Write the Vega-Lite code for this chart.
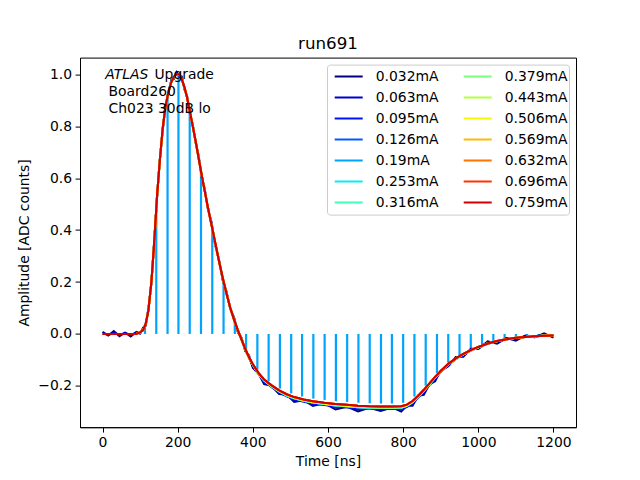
{
"$schema":"https://vega.github.io/schema/vega-lite/v6.json",
"width":496,"height":369.6,
"autosize":"none",
"padding":{"left":80,"top":57.6,"right":64,"bottom":52.8},
"background":"white",
"title":{"text":"run691","fontSize":16.7,"fontWeight":"normal","font":"DejaVu Sans","color":"black","offset":-8,"baseline":"alphabetic","anchor":"middle","frame":"group"},
"config":{
"font":"DejaVu Sans",
"view":{"stroke":"black","strokeWidth":1},
"axis":{"grid":false,"domainColor":"black","domainWidth":1,"tickColor":"black","tickWidth":1,"tickSize":4.9,"labelFontSize":13.9,"labelColor":"black","labelPadding":3.5,"titleFontSize":13.9,"titleColor":"black","titleFontWeight":"normal","labelFont":"DejaVu Sans","titleFont":"DejaVu Sans","labelFlush":false},
"axisX":{"titlePadding":5},
"axisY":{"titlePadding":6}
},
"layer":[
{
"data":{"values":[
{"t":113,"v":0.033},{"t":143,"v":0.483},{"t":173,"v":0.915},{"t":202,"v":1.0},{"t":232,"v":0.86},{"t":262,"v":0.626},{"t":292,"v":0.406},{"t":322,"v":0.203},{"t":352,"v":0.047},{"t":382,"v":-0.061},{"t":412,"v":-0.137},{"t":442,"v":-0.181},{"t":472,"v":-0.21},{"t":502,"v":-0.229},{"t":531,"v":-0.241},{"t":561,"v":-0.249},{"t":591,"v":-0.254},{"t":621,"v":-0.259},{"t":651,"v":-0.262},{"t":681,"v":-0.265},{"t":711,"v":-0.267},{"t":741,"v":-0.268},{"t":770,"v":-0.268},{"t":800,"v":-0.265},{"t":830,"v":-0.241},{"t":860,"v":-0.199},{"t":890,"v":-0.151},{"t":920,"v":-0.11},{"t":950,"v":-0.082},{"t":980,"v":-0.06},{"t":1010,"v":-0.043},{"t":1040,"v":-0.03},{"t":1070,"v":-0.02},{"t":1100,"v":-0.014},{"t":1130,"v":-0.011},{"t":1160,"v":-0.008},{"t":1190,"v":-0.006}
]},
"mark":{"type":"rule","strokeWidth":2.2,"color":"#00a4ff"},
"encoding":{
"x":{"field":"t","type":"quantitative","scale":{"domain":[-60,1260],"nice":false,"zero":false},"title":"Time [ns]","axis":{"values":[0,200,400,600,800,1000,1200],"format":"d"}},
"y":{"field":"v","type":"quantitative","scale":{"domain":[-0.359,1.064],"nice":false,"zero":false},"title":"Amplitude [ADC counts]","axis":{"values":[-0.2,0,0.2,0.4,0.6,0.8,1.0],"format":".1f"}},
"y2":{"datum":0}
}
},
{
"data":{"values":[
{"t":0,"a":0.008,"b":0.004,"c":0,"d":0,"e":0,"f":0,"g":0,"h":0,"i":0,"j":0,"k":0,"l":0,"m":0,"n":0},
{"t":15,"a":-0.006,"b":-0.004,"c":0,"d":0,"e":0,"f":0,"g":0,"h":0,"i":0,"j":0,"k":0,"l":0,"m":0,"n":0},
{"t":30,"a":0.011,"b":0.004,"c":0,"d":0,"e":0,"f":0,"g":0,"h":0,"i":0,"j":0,"k":0,"l":0,"m":0,"n":0},
{"t":45,"a":-0.009,"b":-0.004,"c":0,"d":0,"e":0,"f":0,"g":0,"h":0,"i":0,"j":0,"k":0,"l":0,"m":0,"n":0},
{"t":60,"a":0.005,"b":0.004,"c":0,"d":0,"e":0,"f":0,"g":0,"h":0,"i":0,"j":0,"k":0,"l":0,"m":0,"n":0},
{"t":75,"a":-0.01,"b":-0.004,"c":0,"d":0,"e":0,"f":0,"g":0,"h":0,"i":0,"j":0,"k":0,"l":0,"m":0,"n":0},
{"t":90,"a":0.008,"b":0.005,"c":0.001,"d":0.001,"e":0.001,"f":0.001,"g":0.001,"h":0.001,"i":0.001,"j":0.001,"k":0.001,"l":0.001,"m":0.001,"n":0.001},
{"t":100,"a":0.002,"b":0.002,"c":0.006,"d":0.006,"e":0.006,"f":0.006,"g":0.006,"h":0.006,"i":0.006,"j":0.006,"k":0.006,"l":0.006,"m":0.006,"n":0.006},
{"t":108,"a":0.024,"b":0.019,"c":0.015,"d":0.015,"e":0.015,"f":0.015,"g":0.015,"h":0.015,"i":0.015,"j":0.015,"k":0.015,"l":0.015,"m":0.015,"n":0.015},
{"t":115,"a":0.032,"b":0.036,"c":0.04,"d":0.04,"e":0.04,"f":0.04,"g":0.04,"h":0.04,"i":0.04,"j":0.04,"k":0.04,"l":0.04,"m":0.04,"n":0.04},
{"t":122,"a":0.098,"b":0.094,"c":0.09,"d":0.09,"e":0.09,"f":0.09,"g":0.09,"h":0.09,"i":0.09,"j":0.09,"k":0.09,"l":0.09,"m":0.09,"n":0.09},
{"t":130,"a":0.194,"b":0.196,"c":0.2,"d":0.2,"e":0.2,"f":0.2,"g":0.2,"h":0.2,"i":0.2,"j":0.2,"k":0.2,"l":0.2,"m":0.2,"n":0.2},
{"t":137,"a":0.351,"b":0.344,"c":0.34,"d":0.34,"e":0.34,"f":0.34,"g":0.34,"h":0.34,"i":0.34,"j":0.34,"k":0.34,"l":0.34,"m":0.34,"n":0.34},
{"t":145,"a":0.521,"b":0.526,"c":0.53,"d":0.53,"e":0.53,"f":0.53,"g":0.53,"h":0.53,"i":0.53,"j":0.53,"k":0.53,"l":0.53,"m":0.53,"n":0.53},
{"t":152,"a":0.665,"b":0.664,"c":0.66,"d":0.66,"e":0.66,"f":0.66,"g":0.66,"h":0.66,"i":0.66,"j":0.66,"k":0.66,"l":0.66,"m":0.66,"n":0.66},
{"t":160,"a":0.78,"b":0.786,"c":0.79,"d":0.79,"e":0.79,"f":0.79,"g":0.79,"h":0.79,"i":0.79,"j":0.79,"k":0.79,"l":0.79,"m":0.79,"n":0.79},
{"t":167,"a":0.877,"b":0.874,"c":0.87,"d":0.87,"e":0.87,"f":0.87,"g":0.87,"h":0.87,"i":0.87,"j":0.87,"k":0.87,"l":0.87,"m":0.87,"n":0.87},
{"t":175,"a":0.926,"b":0.926,"c":0.93,"d":0.93,"e":0.93,"f":0.93,"g":0.93,"h":0.93,"i":0.93,"j":0.93,"k":0.93,"l":0.93,"m":0.93,"n":0.93},
{"t":183,"a":0.979,"b":0.974,"c":0.97,"d":0.97,"e":0.97,"f":0.97,"g":0.97,"h":0.97,"i":0.97,"j":0.97,"k":0.97,"l":0.97,"m":0.97,"n":0.97},
{"t":190,"a":0.982,"b":0.986,"c":0.99,"d":0.99,"e":0.99,"f":0.99,"g":0.99,"h":0.99,"i":0.99,"j":0.99,"k":0.99,"l":0.99,"m":0.99,"n":0.99},
{"t":197,"a":1.008,"b":1.004,"c":1.0,"d":1.0,"e":1.0,"f":1.0,"g":1.0,"h":1.0,"i":1.0,"j":1.0,"k":1.0,"l":1.0,"m":1.0,"n":1.0},
{"t":204,"a":0.994,"b":0.996,"c":1.0,"d":1.0,"e":1.0,"f":1.0,"g":1.0,"h":1.0,"i":1.0,"j":1.0,"k":1.0,"l":1.0,"m":1.0,"n":1.0},
{"t":211,"a":0.991,"b":0.984,"c":0.98,"d":0.98,"e":0.98,"f":0.98,"g":0.98,"h":0.98,"i":0.98,"j":0.98,"k":0.98,"l":0.98,"m":0.98,"n":0.98},
{"t":218,"a":0.941,"b":0.946,"c":0.95,"d":0.95,"e":0.95,"f":0.95,"g":0.95,"h":0.95,"i":0.95,"j":0.95,"k":0.95,"l":0.95,"m":0.95,"n":0.95},
{"t":225,"a":0.915,"b":0.914,"c":0.91,"d":0.91,"e":0.91,"f":0.91,"g":0.91,"h":0.91,"i":0.91,"j":0.91,"k":0.91,"l":0.91,"m":0.91,"n":0.91},
{"t":232,"a":0.85,"b":0.856,"c":0.86,"d":0.86,"e":0.86,"f":0.86,"g":0.86,"h":0.86,"i":0.86,"j":0.86,"k":0.86,"l":0.86,"m":0.86,"n":0.86},
{"t":240,"a":0.807,"b":0.804,"c":0.8,"d":0.8,"e":0.8,"f":0.8,"g":0.8,"h":0.8,"i":0.8,"j":0.8,"k":0.8,"l":0.8,"m":0.8,"n":0.8},
{"t":248,"a":0.736,"b":0.736,"c":0.74,"d":0.74,"e":0.74,"f":0.74,"g":0.74,"h":0.74,"i":0.74,"j":0.74,"k":0.74,"l":0.74,"m":0.74,"n":0.74},
{"t":256,"a":0.684,"b":0.679,"c":0.675,"d":0.675,"e":0.675,"f":0.675,"g":0.675,"h":0.675,"i":0.675,"j":0.675,"k":0.675,"l":0.675,"m":0.675,"n":0.675},
{"t":264,"a":0.602,"b":0.606,"c":0.61,"d":0.61,"e":0.61,"f":0.61,"g":0.61,"h":0.61,"i":0.61,"j":0.61,"k":0.61,"l":0.61,"m":0.61,"n":0.61},
{"t":272,"a":0.558,"b":0.554,"c":0.55,"d":0.55,"e":0.55,"f":0.55,"g":0.55,"h":0.55,"i":0.55,"j":0.55,"k":0.55,"l":0.55,"m":0.55,"n":0.55},
{"t":280,"a":0.484,"b":0.486,"c":0.49,"d":0.49,"e":0.49,"f":0.49,"g":0.49,"h":0.49,"i":0.49,"j":0.49,"k":0.49,"l":0.49,"m":0.49,"n":0.49},
{"t":290,"a":0.431,"b":0.424,"c":0.42,"d":0.42,"e":0.42,"f":0.42,"g":0.42,"h":0.42,"i":0.42,"j":0.42,"k":0.42,"l":0.42,"m":0.42,"n":0.42},
{"t":300,"a":0.341,"b":0.346,"c":0.35,"d":0.35,"e":0.35,"f":0.35,"g":0.35,"h":0.35,"i":0.35,"j":0.35,"k":0.35,"l":0.35,"m":0.35,"n":0.35},
{"t":310,"a":0.285,"b":0.284,"c":0.28,"d":0.28,"e":0.28,"f":0.28,"g":0.28,"h":0.28,"i":0.28,"j":0.28,"k":0.28,"l":0.28,"m":0.28,"n":0.28},
{"t":320,"a":0.205,"b":0.211,"c":0.215,"d":0.215,"e":0.215,"f":0.215,"g":0.215,"h":0.215,"i":0.215,"j":0.215,"k":0.215,"l":0.215,"m":0.215,"n":0.215},
{"t":330,"a":0.162,"b":0.159,"c":0.155,"d":0.155,"e":0.155,"f":0.155,"g":0.155,"h":0.155,"i":0.155,"j":0.155,"k":0.155,"l":0.155,"m":0.155,"n":0.155},
{"t":340,"a":0.096,"b":0.096,"c":0.1,"d":0.1,"e":0.1,"f":0.1,"g":0.1,"h":0.1,"i":0.1,"j":0.1,"k":0.1,"l":0.1,"m":0.1,"n":0.1},
{"t":350,"a":0.064,"b":0.059,"c":0.055,"d":0.055,"e":0.055,"f":0.055,"g":0.055,"h":0.055,"i":0.055,"j":0.055,"k":0.055,"l":0.055,"m":0.055,"n":0.055},
{"t":360,"a":0.007,"b":0.011,"c":0.015,"d":0.015,"e":0.015,"f":0.015,"g":0.015,"h":0.015,"i":0.015,"j":0.015,"k":0.015,"l":0.015,"m":0.015,"n":0.015},
{"t":370,"a":-0.015,"b":-0.019,"c":-0.023,"d":-0.022,"e":-0.022,"f":-0.022,"g":-0.022,"h":-0.022,"i":-0.022,"j":-0.022,"k":-0.022,"l":-0.022,"m":-0.022,"n":-0.022},
{"t":380,"a":-0.067,"b":-0.064,"c":-0.06,"d":-0.059,"e":-0.059,"f":-0.059,"g":-0.059,"h":-0.059,"i":-0.059,"j":-0.059,"k":-0.058,"l":-0.058,"m":-0.058,"n":-0.058},
{"t":390,"a":-0.083,"b":-0.089,"c":-0.093,"d":-0.092,"e":-0.092,"f":-0.092,"g":-0.092,"h":-0.091,"i":-0.091,"j":-0.091,"k":-0.09,"l":-0.09,"m":-0.09,"n":-0.09},
{"t":400,"a":-0.131,"b":-0.125,"c":-0.121,"d":-0.119,"e":-0.119,"f":-0.119,"g":-0.119,"h":-0.118,"i":-0.118,"j":-0.118,"k":-0.117,"l":-0.117,"m":-0.117,"n":-0.117},
{"t":415,"a":-0.152,"b":-0.151,"c":-0.155,"d":-0.153,"e":-0.153,"f":-0.153,"g":-0.153,"h":-0.152,"i":-0.152,"j":-0.152,"k":-0.15,"l":-0.15,"m":-0.15,"n":-0.15},
{"t":430,"a":-0.193,"b":-0.185,"c":-0.181,"d":-0.179,"e":-0.179,"f":-0.179,"g":-0.179,"h":-0.177,"i":-0.177,"j":-0.177,"k":-0.175,"l":-0.175,"m":-0.175,"n":-0.175},
{"t":450,"a":-0.2,"b":-0.201,"c":-0.205,"d":-0.202,"e":-0.202,"f":-0.202,"g":-0.202,"h":-0.2,"i":-0.2,"j":-0.2,"k":-0.198,"l":-0.198,"m":-0.198,"n":-0.198},
{"t":470,"a":-0.231,"b":-0.229,"c":-0.225,"d":-0.221,"e":-0.221,"f":-0.221,"g":-0.221,"h":-0.219,"i":-0.219,"j":-0.219,"k":-0.217,"l":-0.217,"m":-0.217,"n":-0.217},
{"t":490,"a":-0.233,"b":-0.236,"c":-0.24,"d":-0.237,"e":-0.237,"f":-0.237,"g":-0.237,"h":-0.234,"i":-0.234,"j":-0.234,"k":-0.232,"l":-0.232,"m":-0.232,"n":-0.232},
{"t":510,"a":-0.262,"b":-0.256,"c":-0.252,"d":-0.248,"e":-0.248,"f":-0.248,"g":-0.248,"h":-0.245,"i":-0.245,"j":-0.245,"k":-0.243,"l":-0.243,"m":-0.243,"n":-0.243},
{"t":535,"a":-0.255,"b":-0.257,"c":-0.261,"d":-0.257,"e":-0.257,"f":-0.257,"g":-0.257,"h":-0.255,"i":-0.255,"j":-0.255,"k":-0.252,"l":-0.252,"m":-0.252,"n":-0.252},
{"t":560,"a":-0.277,"b":-0.272,"c":-0.268,"d":-0.264,"e":-0.264,"f":-0.264,"g":-0.264,"h":-0.262,"i":-0.262,"j":-0.262,"k":-0.259,"l":-0.259,"m":-0.259,"n":-0.259},
{"t":590,"a":-0.266,"b":-0.27,"c":-0.274,"d":-0.27,"e":-0.27,"f":-0.27,"g":-0.27,"h":-0.268,"i":-0.268,"j":-0.268,"k":-0.265,"l":-0.265,"m":-0.265,"n":-0.265},
{"t":620,"a":-0.291,"b":-0.283,"c":-0.279,"d":-0.275,"e":-0.275,"f":-0.275,"g":-0.275,"h":-0.273,"i":-0.273,"j":-0.273,"k":-0.27,"l":-0.27,"m":-0.27,"n":-0.27},
{"t":650,"a":-0.28,"b":-0.279,"c":-0.283,"d":-0.278,"e":-0.278,"f":-0.278,"g":-0.278,"h":-0.276,"i":-0.276,"j":-0.276,"k":-0.273,"l":-0.273,"m":-0.273,"n":-0.273},
{"t":680,"a":-0.298,"b":-0.29,"c":-0.286,"d":-0.282,"e":-0.282,"f":-0.282,"g":-0.282,"h":-0.279,"i":-0.279,"j":-0.279,"k":-0.276,"l":-0.276,"m":-0.276,"n":-0.276},
{"t":710,"a":-0.284,"b":-0.284,"c":-0.288,"d":-0.284,"e":-0.284,"f":-0.284,"g":-0.284,"h":-0.281,"i":-0.281,"j":-0.281,"k":-0.278,"l":-0.278,"m":-0.278,"n":-0.278},
{"t":740,"a":-0.296,"b":-0.293,"c":-0.289,"d":-0.285,"e":-0.285,"f":-0.285,"g":-0.285,"h":-0.282,"i":-0.282,"j":-0.282,"k":-0.279,"l":-0.279,"m":-0.279,"n":-0.279},
{"t":770,"a":-0.283,"b":-0.285,"c":-0.289,"d":-0.285,"e":-0.285,"f":-0.285,"g":-0.285,"h":-0.282,"i":-0.282,"j":-0.282,"k":-0.279,"l":-0.279,"m":-0.279,"n":-0.279},
{"t":795,"a":-0.299,"b":-0.292,"c":-0.288,"d":-0.284,"e":-0.284,"f":-0.284,"g":-0.284,"h":-0.281,"i":-0.281,"j":-0.281,"k":-0.278,"l":-0.278,"m":-0.278,"n":-0.278},
{"t":810,"a":-0.276,"b":-0.278,"c":-0.282,"d":-0.277,"e":-0.277,"f":-0.277,"g":-0.277,"h":-0.275,"i":-0.275,"j":-0.275,"k":-0.272,"l":-0.272,"m":-0.272,"n":-0.272},
{"t":825,"a":-0.276,"b":-0.271,"c":-0.267,"d":-0.263,"e":-0.263,"f":-0.263,"g":-0.263,"h":-0.261,"i":-0.261,"j":-0.261,"k":-0.258,"l":-0.258,"m":-0.258,"n":-0.258},
{"t":840,"a":-0.238,"b":-0.242,"c":-0.246,"d":-0.243,"e":-0.243,"f":-0.243,"g":-0.243,"h":-0.24,"i":-0.24,"j":-0.24,"k":-0.238,"l":-0.238,"m":-0.238,"n":-0.238},
{"t":855,"a":-0.234,"b":-0.227,"c":-0.223,"d":-0.219,"e":-0.219,"f":-0.219,"g":-0.219,"h":-0.217,"i":-0.217,"j":-0.217,"k":-0.215,"l":-0.215,"m":-0.215,"n":-0.215},
{"t":870,"a":-0.194,"b":-0.193,"c":-0.197,"d":-0.194,"e":-0.194,"f":-0.194,"g":-0.194,"h":-0.192,"i":-0.192,"j":-0.192,"k":-0.19,"l":-0.19,"m":-0.19,"n":-0.19},
{"t":885,"a":-0.182,"b":-0.175,"c":-0.171,"d":-0.168,"e":-0.168,"f":-0.168,"g":-0.168,"h":-0.167,"i":-0.167,"j":-0.167,"k":-0.165,"l":-0.165,"m":-0.165,"n":-0.165},
{"t":900,"a":-0.141,"b":-0.143,"c":-0.147,"d":-0.145,"e":-0.145,"f":-0.145,"g":-0.145,"h":-0.143,"i":-0.143,"j":-0.143,"k":-0.142,"l":-0.142,"m":-0.142,"n":-0.142},
{"t":920,"a":-0.124,"b":-0.123,"c":-0.119,"d":-0.117,"e":-0.117,"f":-0.117,"g":-0.117,"h":-0.116,"i":-0.116,"j":-0.116,"k":-0.115,"l":-0.115,"m":-0.115,"n":-0.115},
{"t":940,"a":-0.089,"b":-0.093,"c":-0.097,"d":-0.096,"e":-0.096,"f":-0.096,"g":-0.096,"h":-0.095,"i":-0.095,"j":-0.095,"k":-0.094,"l":-0.094,"m":-0.094,"n":-0.094},
{"t":960,"a":-0.088,"b":-0.084,"c":-0.08,"d":-0.079,"e":-0.079,"f":-0.079,"g":-0.079,"h":-0.078,"i":-0.078,"j":-0.078,"k":-0.077,"l":-0.077,"m":-0.077,"n":-0.077},
{"t":980,"a":-0.057,"b":-0.06,"c":-0.064,"d":-0.063,"e":-0.063,"f":-0.063,"g":-0.063,"h":-0.063,"i":-0.063,"j":-0.063,"k":-0.062,"l":-0.062,"m":-0.062,"n":-0.062},
{"t":1000,"a":-0.058,"b":-0.056,"c":-0.052,"d":-0.051,"e":-0.051,"f":-0.051,"g":-0.051,"h":-0.051,"i":-0.051,"j":-0.051,"k":-0.05,"l":-0.05,"m":-0.05,"n":-0.05},
{"t":1025,"a":-0.028,"b":-0.034,"c":-0.038,"d":-0.038,"e":-0.038,"f":-0.038,"g":-0.038,"h":-0.037,"i":-0.037,"j":-0.037,"k":-0.037,"l":-0.037,"m":-0.037,"n":-0.037},
{"t":1050,"a":-0.037,"b":-0.032,"c":-0.028,"d":-0.028,"e":-0.028,"f":-0.028,"g":-0.028,"h":-0.027,"i":-0.027,"j":-0.027,"k":-0.027,"l":-0.027,"m":-0.027,"n":-0.027},
{"t":1075,"a":-0.016,"b":-0.017,"c":-0.021,"d":-0.02,"e":-0.02,"f":-0.02,"g":-0.02,"h":-0.02,"i":-0.02,"j":-0.02,"k":-0.02,"l":-0.02,"m":-0.02,"n":-0.02},
{"t":1100,"a":-0.026,"b":-0.02,"c":-0.016,"d":-0.015,"e":-0.015,"f":-0.015,"g":-0.015,"h":-0.015,"i":-0.015,"j":-0.015,"k":-0.015,"l":-0.015,"m":-0.015,"n":-0.015},
{"t":1125,"a":-0.006,"b":-0.008,"c":-0.012,"d":-0.012,"e":-0.012,"f":-0.012,"g":-0.012,"h":-0.012,"i":-0.012,"j":-0.012,"k":-0.012,"l":-0.012,"m":-0.012,"n":-0.012},
{"t":1150,"a":-0.013,"b":-0.013,"c":-0.009,"d":-0.009,"e":-0.009,"f":-0.009,"g":-0.009,"h":-0.009,"i":-0.009,"j":-0.009,"k":-0.009,"l":-0.009,"m":-0.009,"n":-0.009},
{"t":1175,"a":0.002,"b":-0.003,"c":-0.007,"d":-0.007,"e":-0.007,"f":-0.007,"g":-0.007,"h":-0.007,"i":-0.007,"j":-0.007,"k":-0.007,"l":-0.007,"m":-0.007,"n":-0.007},
{"t":1200,"a":-0.014,"b":-0.01,"c":-0.006,"d":-0.006,"e":-0.006,"f":-0.006,"g":-0.006,"h":-0.006,"i":-0.006,"j":-0.006,"k":-0.006,"l":-0.006,"m":-0.006,"n":-0.006}
]},
"transform":[
{"fold":["a","b","c","d","e","f","g","h","i","j","k","l","m","n"],"as":["k","v"]},
{"lookup":"k","from":{"data":{"values":[
{"k":"a","current":"0.032mA"},{"k":"b","current":"0.063mA"},{"k":"c","current":"0.095mA"},{"k":"d","current":"0.126mA"},{"k":"e","current":"0.19mA"},{"k":"f","current":"0.253mA"},{"k":"g","current":"0.316mA"},{"k":"h","current":"0.379mA"},{"k":"i","current":"0.443mA"},{"k":"j","current":"0.506mA"},{"k":"k","current":"0.569mA"},{"k":"l","current":"0.632mA"},{"k":"m","current":"0.696mA"},{"k":"n","current":"0.759mA"}
]},"key":"k","fields":["current"]}}
],
"mark":{"type":"line","strokeWidth":2},
"encoding":{
"x":{"field":"t","type":"quantitative","scale":{"domain":[-60,1260],"nice":false,"zero":false},"title":"Time [ns]","axis":{"values":[0,200,400,600,800,1000,1200],"format":"d"}},
"y":{"field":"v","type":"quantitative","scale":{"domain":[-0.359,1.064],"nice":false,"zero":false},"title":"Amplitude [ADC counts]","axis":{"values":[-0.2,0,0.2,0.4,0.6,0.8,1.0],"format":".1f"}},
"color":{"field":"current","type":"nominal",
"scale":{"domain":["0.032mA","0.063mA","0.095mA","0.126mA","0.19mA","0.253mA","0.316mA","0.379mA","0.443mA","0.506mA","0.569mA","0.632mA","0.696mA","0.759mA"],
"range":["#000080","#0000d2","#0012ff","#005bff","#00a4ff","#06edf1","#41ffb6","#7bff7b","#b6ff41","#f1fc06","#ffb900","#ff7500","#ff3200","#d20000"]},
"legend":{"title":null,"orient":"top-right","offset":7,"columns":2,"symbolType":"stroke","symbolSize":784,"symbolStrokeWidth":2,"labelFontSize":13.9,"labelColor":"black","labelFont":"DejaVu Sans","strokeColor":"#cccccc","fillColor":"white","cornerRadius":3,"padding":1.5,"clipHeight":21,"rowPadding":0,"columnPadding":19,"symbolOffset":5.2,"labelOffset":12,"labelLimit":200}}
}
},
{
"data":{"values":[{"label":"ATLAS"}]},
"mark":{"type":"text","align":"left","baseline":"alphabetic","fontSize":13.9,"font":"DejaVu Sans","fontStyle":"italic","color":"black"},
"encoding":{"x":{"datum":7.2,"type":"quantitative","title":"Time [ns]","axis":{"values":[0,200,400,600,800,1000,1200],"format":"d"}},"y":{"datum":0.983,"type":"quantitative","title":"Amplitude [ADC counts]","axis":{"values":[-0.2,0,0.2,0.4,0.6,0.8,1.0],"format":".1f"}},"text":{"field":"label"}}
},
{
"data":{"values":[{"label":"Upgrade"}]},
"mark":{"type":"text","align":"left","baseline":"alphabetic","fontSize":13.9,"font":"DejaVu Sans","color":"black"},
"encoding":{"x":{"datum":138,"type":"quantitative","title":"Time [ns]","axis":{"values":[0,200,400,600,800,1000,1200],"format":"d"}},"y":{"datum":0.983,"type":"quantitative","title":"Amplitude [ADC counts]","axis":{"values":[-0.2,0,0.2,0.4,0.6,0.8,1.0],"format":".1f"}},"text":{"field":"label"}}
},
{
"data":{"values":[{"label":"Board260"}]},
"mark":{"type":"text","align":"left","baseline":"alphabetic","fontSize":13.9,"font":"DejaVu Sans","color":"black"},
"encoding":{"x":{"datum":16,"type":"quantitative","title":"Time [ns]","axis":{"values":[0,200,400,600,800,1000,1200],"format":"d"}},"y":{"datum":0.916,"type":"quantitative","title":"Amplitude [ADC counts]","axis":{"values":[-0.2,0,0.2,0.4,0.6,0.8,1.0],"format":".1f"}},"text":{"field":"label"}}
},
{
"data":{"values":[{"label":"Ch023 30dB lo"}]},
"mark":{"type":"text","align":"left","baseline":"alphabetic","fontSize":13.9,"font":"DejaVu Sans","color":"black"},
"encoding":{"x":{"datum":16,"type":"quantitative","title":"Time [ns]","axis":{"values":[0,200,400,600,800,1000,1200],"format":"d"}},"y":{"datum":0.852,"type":"quantitative","title":"Amplitude [ADC counts]","axis":{"values":[-0.2,0,0.2,0.4,0.6,0.8,1.0],"format":".1f"}},"text":{"field":"label"}}
}
]
}
